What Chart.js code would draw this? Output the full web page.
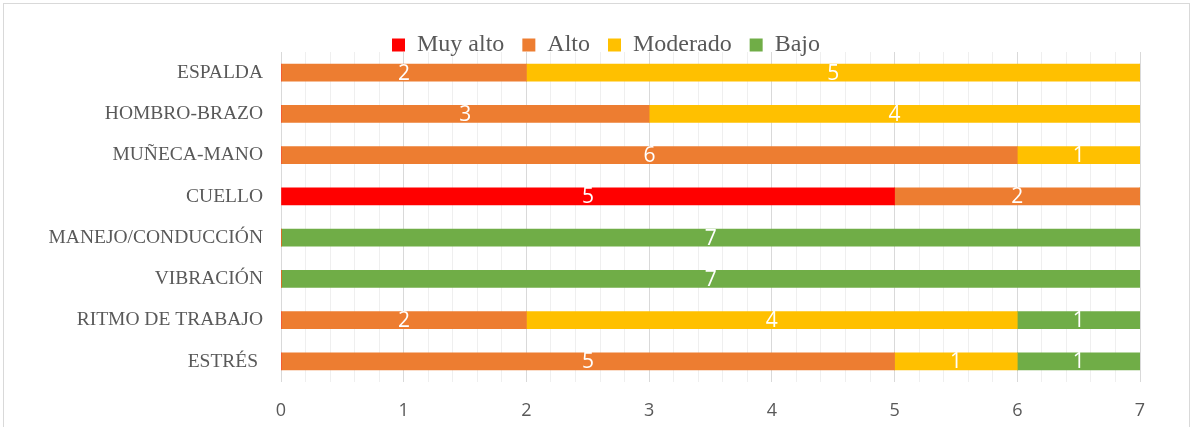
<!DOCTYPE html>
<html>
<head>
<meta charset="utf-8">
<script src="https://cdn.jsdelivr.net/npm/chart.js@4/dist/chart.umd.min.js"></script>
<style>
  html, body { margin: 0; padding: 0; background: #ffffff; overflow: hidden; }
  #frame { position: absolute; left: 3px; top: 3px; width: 1187px; height: 440px; border: 1px solid #d9d9d9; box-sizing: border-box; }
  #c { position: absolute; left: 0; top: 0; }
</style>
</head>
<body>
<div id="frame"></div>
<canvas id="c" width="1195" height="427"></canvas>
<script>
// ---- data ----
const categories = ['ESPALDA', 'HOMBRO-BRAZO', 'MUÑECA-MANO', 'CUELLO', 'MANEJO/CONDUCCIÓN', 'VIBRACIÓN', 'RITMO DE TRABAJO', 'ESTRÉS '];
const seriesNames = ['Muy alto', 'Alto', 'Moderado', 'Bajo'];
const muyAlto  = [0, 0, 0, 5, 0, 0, 0, 0];
const alto     = [2, 3, 6, 2, 0, 0, 2, 5];
const moderado = [5, 4, 1, 0, 0, 0, 4, 1];
const bajo     = [0, 0, 0, 0, 7, 7, 1, 1];
const xTickLabels = ['0', '1', '2', '3', '4', '5', '6', '7'];

const colors = ['#FF0000', '#ED7D31', '#FFC000', '#70AD47'];
const seriesValues = [muyAlto, alto, moderado, bajo];

const isInt = v => Math.abs(v - Math.round(v)) < 1e-6;

// legend sits close to the plot (as in the original) and is centred a bit right
const legendFit = {
  id: 'legendFit',
  beforeUpdate(chart) {
    const lg = chart.legend;
    if (lg && !lg._patched) {
      const origFit = lg.fit;
      lg.fit = function () { origFit.call(this); this.height = 37; };
      const origDraw = lg.draw;
      lg.draw = function () {
        const b = this.bottom, l = this.left;
        this.bottom = b + 20;
        this.left = l + 72;
        origDraw.call(this);
        this.bottom = b;
        this.left = l;
      };
      lg._patched = true;
    }
  }
};

const barLabels = {
  id: 'barLabels',
  afterDatasetsDraw(chart) {
    const ctx = chart.ctx;
    ctx.save();
    ctx.fillStyle = '#ffffff';
    ctx.font = '21px "Open Sans", "Liberation Sans", sans-serif';
    ctx.textAlign = 'center';
    ctx.textBaseline = 'middle';
    chart.data.datasets.forEach((ds, i) => {
      const meta = chart.getDatasetMeta(i);
      if (meta.hidden) return;
      meta.data.forEach((bar, j) => {
        const v = ds.data[j];
        if (!v) return;
        const cx = (bar.x + bar.base) / 2;
        ctx.fillText(String(v), cx, bar.y + 1);
      });
    });
    ctx.restore();
  }
};

new Chart(document.getElementById('c'), {
  type: 'bar',
  data: {
    labels: categories,
    datasets: seriesNames.map((name, i) => ({
      label: name,
      data: seriesValues[i],
      backgroundColor: colors[i],
      borderWidth: 0,
      barThickness: 17
    }))
  },
  options: {
    indexAxis: 'y',
    responsive: false,
    animation: false,
    layout: { padding: { left: 0, right: 55, top: 15, bottom: 0 } },
    plugins: {
      tooltip: { enabled: false },
      legend: {
        position: 'top',
        labels: {
          color: '#595959',
          font: { family: '"Liberation Serif", "Times New Roman", serif', size: 24 },
          boxWidth: 13,
          boxHeight: 13,
          padding: 18
        }
      }
    },
    scales: {
      x: {
        stacked: true,
        min: 0,
        max: 7,
        afterFit(s) { s.height = 45; },
        border: { display: false },
        grid: {
          drawTicks: false,
          color: c => (c.tick && isInt(c.tick.value)) ? '#d9d9d9' : '#efefef',
          lineWidth: 1
        },
        ticks: {
          stepSize: 0.2,
          autoSkip: false,
          maxRotation: 0,
          padding: 18,
          color: '#595959',
          font: { family: '"Open Sans", "Liberation Sans", sans-serif', size: 18 },
          callback: v => isInt(v) ? xTickLabels[Math.round(v)] : ''
        }
      },
      y: {
        stacked: true,
        afterFit(s) { s.width = 281; },
        border: { display: false },
        grid: { display: false, drawTicks: false },
        ticks: {
          padding: 18,
          color: '#595959',
          font: { family: '"Liberation Serif", "Times New Roman", serif', size: 19.5 }
        }
      }
    }
  },
  plugins: [legendFit, barLabels]
});
</script>
</body>
</html>
